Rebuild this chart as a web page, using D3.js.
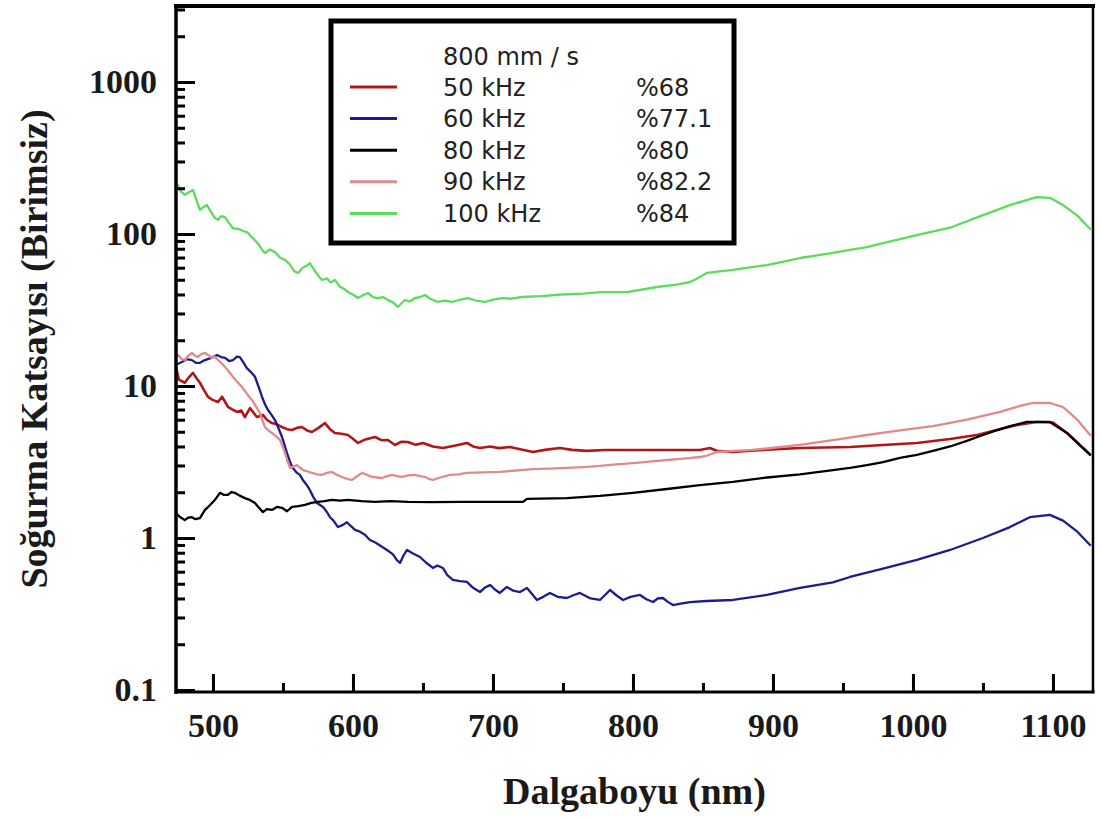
<!DOCTYPE html>
<html>
<head>
<meta charset="utf-8">
<script src="https://cdn.jsdelivr.net/npm/d3@7"></script>
<style>
  html, body { margin: 0; padding: 0; background: #fff; }
  svg { display: block; }
</style>
</head>
<body>
<svg id="chart" width="1100" height="818"></svg>
<script>
// Absorption coefficient spectra, 800 mm/s scan speed, five pulse frequencies
const xTicks = [500, 600, 700, 800, 900, 1000, 1100];
const xMinorTicks = [550, 650, 750, 850, 950, 1050];
const yTicks = [0.1, 1, 10, 100, 1000];
const yTickLabels = ["0.1", "1", "10", "100", "1000"];
const xTitle = "Dalgaboyu (nm)";
const yTitle = "Soğurma Katsayısı (Birimsiz)";
const legendTitle = "800 mm / s";
const seriesNames = ["50 kHz", "60 kHz", "80 kHz", "90 kHz", "100 kHz"];
const seriesPercent = ["%68", "%77.1", "%80", "%82.2", "%84"];
const seriesColors = ["#b01818", "#1c1c8e", "#000000", "#e08a8c", "#5cdc5c"];

// [wavelength nm, absorption coefficient]
const khz50 = [
  [473.6,13.3],[475.7,11.0],[479.9,10.5],[482.8,11.4],[485.7,12.2],[488.4,11.2],[490.7,10.5],[493.6,9.4],
  [496.4,8.5],[499.7,8.1],[503.6,7.85],[506.5,8.5],[510.7,7.3],[514.0,7.0],[517.1,6.75],[520.2,6.9],[522.8,6.25],
  [526.4,7.15],[531.4,6.25],[535.7,6.45],[538.5,6.0],[542.1,5.7],[545.7,5.6],[549.3,5.37],[552.9,5.2],[556.5,5.13],
  [560.0,5.3],[563.5,5.37],[567.2,5.1],[570.7,4.98],[575.4,5.3],[580.0,5.7],[583.6,5.2],[587.1,4.91],[591.7,4.85],
  [596.4,4.76],[599.9,4.5],[603.6,4.22],[608.9,4.45],[615.7,4.62],[620.4,4.4],[625.0,4.41],[630.0,4.09],[634.7,4.3],
  [639.3,4.28],[644.9,4.1],[650.0,4.22],[657.1,4.0],[664.2,3.91],[672.5,4.05],[681.4,4.22],[685.8,4.0],[690.7,3.91],
  [698.1,4.0],[704.2,3.9],[712.1,3.97],[718.6,3.85],[728.6,3.68],[737.0,3.8],[747.9,3.91],[756.4,3.8],[767.1,3.74],
  [779.9,3.79],[800.0,3.79],[820.8,3.79],[847.8,3.79],[855.0,3.91],[859.7,3.75],[871.4,3.68],[892.4,3.8],[919.3,3.91],
  [955.0,3.97],[978.6,4.09],[1002.8,4.22],[1026.5,4.48],[1045.7,4.76],[1060.0,5.13],[1074.3,5.54],[1088.5,5.8],
  [1100.0,5.75],[1110.0,4.91],[1127,3.5]
];
const khz60 = [
  [473.6,13.8],[477.8,14.4],[481.3,15.0],[485.0,14.8],[487.9,14.2],[490.7,14.2],[494.3,14.8],[498.7,15.3],
  [502.9,16.0],[505.8,15.5],[508.6,15.3],[511.5,14.6],[514.3,14.8],[517.1,15.6],[519.2,15.5],[521.7,14.3],
  [524.2,13.1],[527.3,12.3],[530.0,11.5],[532.4,10.0],[535.0,8.5],[537.1,7.6],[539.3,6.95],[541.6,6.5],[544.3,5.97],
  [546.7,5.3],[549.3,4.62],[551.1,4.1],[552.9,3.62],[554.9,3.2],[556.5,2.93],[560.0,2.68],[562.1,2.6],[564.2,2.41],
  [566.7,2.25],[569.2,2.07],[571.8,1.85],[574.3,1.7],[578.6,1.6],[581.0,1.5],[583.6,1.37],[586.1,1.3],[589.3,1.18],
  [592.8,1.22],[595.7,1.27],[598.4,1.2],[601.5,1.13],[605.0,1.1],[608.6,1.05],[612.1,0.97],[616.3,0.93],[620.4,0.88],
  [624.3,0.834],[628.6,0.78],[631.1,0.72],[633.6,0.685],[636.2,0.77],[638.6,0.834],[642.9,0.79],[647.9,0.75],
  [652.1,0.69],[657.1,0.635],[660.3,0.66],[664.2,0.635],[667.4,0.57],[671.4,0.53],[676.4,0.52],[681.4,0.514],
  [685.8,0.47],[690.7,0.441],[694.0,0.47],[697.9,0.491],[701.2,0.46],[704.9,0.435],[709.9,0.476],[714.5,0.45],
  [719.3,0.441],[724.3,0.469],[727.8,0.43],[731.4,0.391],[735.9,0.41],[740.7,0.435],[746.2,0.41],[752.8,0.403],
  [757.4,0.42],[762.1,0.435],[769.7,0.4],[776.4,0.391],[779.9,0.42],[783.6,0.455],[788.1,0.42],[792.9,0.391],
  [798.3,0.41],[805.0,0.422],[809.6,0.395],[814.3,0.379],[817.7,0.4],[821.4,0.403],[824.9,0.38],[828.6,0.362],
  [834.1,0.37],[840.8,0.379],[852.5,0.385],[871.4,0.391],[895.7,0.422],[919.3,0.469],[942.8,0.51],[955.0,0.554],
  [979.3,0.63],[1002.8,0.717],[1026.5,0.834],[1050.0,1.0],[1069.3,1.18],[1083.5,1.37],[1097.8,1.42],[1107.2,1.3],
  [1117.4,1.1],[1127,0.89]
];
const khz80 = [
  [473.6,1.46],[476.2,1.38],[479.9,1.31],[482.3,1.36],[485.0,1.37],[487.4,1.33],[490.7,1.35],[494.3,1.53],[496.6,1.6],
  [499.3,1.70],[501.8,1.8],[505.0,1.98],[507.9,1.92],[510.7,1.92],[513.0,2.0],[515.8,1.98],[519.1,1.9],[522.8,1.83],
  [526.3,1.78],[530.0,1.70],[532.4,1.6],[535.7,1.48],[538.5,1.55],[542.1,1.53],[545.7,1.6],[549.3,1.58],[552.9,1.5],
  [556.5,1.6],[561.1,1.62],[565.7,1.65],[570.3,1.7],[575.0,1.73],[579.5,1.75],[585.0,1.78],[590.7,1.76],[596.4,1.78],
  [606.1,1.75],[615.7,1.73],[626.5,1.75],[639.3,1.73],[657.2,1.72],[677.6,1.73],[698.1,1.73],[721.4,1.73],[724.3,1.81],
  [752.8,1.83],[776.4,1.89],[800.0,1.98],[824.3,2.1],[847.8,2.23],[871.4,2.34],[895.7,2.5],[919.3,2.62],
  [942.8,2.8],[955.0,2.89],[967.2,3.02],[978.6,3.16],[990.7,3.36],[1002.8,3.52],[1014.3,3.74],[1026.5,4.0],
  [1038.5,4.35],[1050.0,4.76],[1060.0,5.13],[1069.3,5.45],[1081.4,5.8],[1097.8,5.8],[1110.0,4.91],[1127,3.5]
];
const khz90 = [
  [473.6,15.5],[475.2,16.0],[477.7,15.0],[479.9,14.83],[482.3,15.8],[485.0,16.49],[486.9,15.9],[489.3,15.51],
  [491.5,16.2],[494.3,16.49],[496.6,16.0],[499.3,15.28],[501.2,15.6],[503.6,14.83],[505.8,14.2],[508.6,13.34],
  [511.5,12.4],[514.3,11.46],[517.6,10.6],[520.7,9.85],[524.2,8.9],[527.8,8.09],[530.9,7.3],[533.6,6.64],
  [535.5,5.9],[537.1,5.37],[539.6,5.1],[542.1,4.91],[544.7,4.7],[547.9,4.41],[549.8,4.0],[551.5,3.62],[553.2,3.2],
  [555.0,2.89],[557.5,2.95],[560.0,3.02],[562.1,2.9],[564.2,2.8],[567.2,2.75],[570.7,2.68],[574.4,2.62],[577.8,2.6],
  [581.5,2.68],[585.0,2.72],[588.7,2.6],[592.2,2.52],[595.8,2.45],[599.3,2.41],[603.0,2.55],[606.5,2.68],[610.2,2.6],
  [613.6,2.52],[617.3,2.5],[620.7,2.48],[624.5,2.55],[627.8,2.6],[631.6,2.55],[635.0,2.52],[639.8,2.58],[644.3,2.6],
  [648.0,2.55],[651.5,2.52],[654.1,2.45],[657.1,2.41],[662.3,2.5],[669.3,2.6],[675.6,2.62],[681.4,2.68],[693.0,2.7],
  [704.9,2.72],[716.5,2.78],[728.6,2.84],[740.0,2.86],[752.8,2.89],[764.6,2.93],[776.4,2.98],[788.1,3.05],[800.0,3.11],
  [811.6,3.18],[824.3,3.26],[836.2,3.33],[847.8,3.41],[853.5,3.5],[860.0,3.68],[871.4,3.74],[883.6,3.79],[895.7,3.88],
  [919.3,4.1],[942.8,4.4],[967.2,4.76],[990.7,5.1],[1014.3,5.45],[1038.6,6.0],[1062.2,6.75],[1076.5,7.4],[1085.7,7.73],
  [1098.0,7.73],[1107.2,7.27],[1117.4,6.0],[1127,4.7]
];
const khz100 = [
  [473.6,215],[474.9,210],[477.2,190],[479.9,181],[482.8,188],[485.7,195],[487.9,170],[490.7,144],[493.0,150],
  [495.7,155],[498.6,140],[501.2,128],[503.6,124],[505.8,131],[508.6,129],[511.5,118],[514.3,109],[518.1,108],
  [521.2,105],[524.9,102],[527.3,96],[530.0,91],[532.4,86],[534.5,80],[537.1,75],[540.6,79],[544.3,76],[547.8,70],
  [551.5,67.5],[555.0,63],[558.0,57],[560.8,55.4],[564.1,60],[567.2,62],[569.2,64.4],[572.3,58],[575.4,53],[577.8,49.8],
  [581.5,51],[584.1,48],[587.1,49.8],[590.7,45],[593.8,43.5],[596.4,41.5],[599.9,40],[603.6,37.9],[607.1,39.5],
  [610.7,40.9],[614.2,38.5],[617.8,37.9],[621.4,38.5],[625.0,36.8],[628.6,35.5],[632.1,33.1],[634.7,35],[637.1,36.8],
  [640.8,36],[644.3,37.9],[648.0,38.5],[651.5,39.7],[655.1,37.5],[660.7,35.7],[665.4,36.5],[670.7,35.7],[675.6,36.8],
  [682.1,37.9],[687.9,36.5],[694.3,35.7],[700.1,37],[706.4,37.9],[713.4,37.5],[720.7,38.5],[733.9,39],[749.2,40],
  [764.6,40.5],[776.4,41.5],[795.8,41.5],[817.1,44.8],[831.0,46.5],[840.8,48.3],[847.4,52],[852.8,55.4],[871.4,58],
  [895.7,62.5],[919.3,69.5],[942.8,75],[954.9,78.5],[967.2,82],[978.6,87.2],[1002.8,98.4],[1026.5,110],
  [1050.0,133],[1069.3,155],[1088.5,175],[1097.8,173],[1107.2,155],[1117.4,132],[1127,107]
];
const seriesData = [khz50, khz60, khz80, khz90, khz100];

const svg = d3.select("#chart");
const plot = { left: 176, right: 1093, top: 6, bottom: 692 };

const x = d3.scaleLinear().domain([473.6, 1128.6]).range([plot.left, plot.right]);
const y = d3.scaleLog().domain([0.097, 3162]).range([plot.bottom, plot.top]);

const serif = "'Liberation Serif', 'Times New Roman', serif";
const sans = "'DejaVu Sans', Verdana, sans-serif";

svg.append("defs").append("clipPath").attr("id", "plotClip")
  .append("rect")
  .attr("x", plot.left).attr("y", plot.top)
  .attr("width", plot.right - plot.left).attr("height", plot.bottom - plot.top);

// Data lines
const line = d3.line().x(d => x(d[0])).y(d => y(d[1]));
const lines = svg.append("g").attr("clip-path", "url(#plotClip)");
seriesData.forEach((data, i) => {
  lines.append("path")
    .datum(data)
    .attr("fill", "none")
    .attr("stroke", seriesColors[i])
    .attr("stroke-width", i === 0 ? 2.6 : 2.3)
    .attr("stroke-linejoin", "round")
    .attr("d", line);
});

// Minor y ticks: 2..9 within each decade
const yMinor = [];
[0.1, 1, 10, 100, 1000].forEach(d => {
  for (let k = 2; k <= 9; k++) {
    const v = d * k;
    if (v < 3162) yMinor.push(v);
  }
});

const yAxisMinor = d3.axisLeft(y).tickValues(yMinor).tickSize(-9).tickFormat("");
const yAxis = d3.axisLeft(y).tickValues(yTicks).tickSize(-19).tickPadding(19)
  .tickFormat((d, i) => yTickLabels[i]);
const xAxisMinor = d3.axisBottom(x).tickValues(xMinorTicks).tickSize(-9).tickFormat("");
const xAxis = d3.axisBottom(x).tickValues(xTicks).tickSize(-18).tickPadding(21)
  .tickFormat(d3.format("d"));

function styleAxis(g) {
  g.select(".domain").remove();
  g.selectAll(".tick line").attr("stroke", "#000").attr("stroke-width", 3);
  g.selectAll(".tick text")
    .attr("fill", "#1a1a1a")
    .style("font-family", serif)
    .style("font-weight", "bold")
    .style("font-size", "34px");
}

svg.append("g").attr("transform", `translate(${plot.left},0)`).call(yAxisMinor).call(styleAxis);
svg.append("g").attr("transform", `translate(${plot.left},0)`).call(yAxis).call(styleAxis);
svg.append("g").attr("transform", `translate(0,${plot.bottom})`).call(xAxisMinor).call(styleAxis);
svg.append("g").attr("transform", `translate(0,${plot.bottom})`).call(xAxis).call(styleAxis);

// Frame
const frame = svg.append("g").attr("stroke", "#000").attr("stroke-linecap", "square");
frame.append("line").attr("x1", plot.left).attr("x2", plot.left).attr("y1", plot.top).attr("y2", plot.bottom).attr("stroke-width", 3.5);
frame.append("line").attr("x1", plot.left).attr("x2", plot.right).attr("y1", plot.bottom).attr("y2", plot.bottom).attr("stroke-width", 3);
frame.append("line").attr("x1", plot.left).attr("x2", plot.right).attr("y1", plot.top).attr("y2", plot.top).attr("stroke-width", 4);
frame.append("line").attr("x1", plot.right).attr("x2", plot.right).attr("y1", plot.top).attr("y2", plot.bottom).attr("stroke-width", 2.5);

// Axis titles
svg.append("text")
  .attr("x", (plot.left + plot.right) / 2).attr("y", 804)
  .attr("text-anchor", "middle")
  .attr("fill", "#1a1a1a")
  .style("font-family", serif).style("font-weight", "bold").style("font-size", "38px")
  .text(xTitle);

svg.append("text")
  .attr("transform", `translate(47,${(plot.top + plot.bottom) / 2}) rotate(-90)`)
  .attr("text-anchor", "middle")
  .attr("fill", "#1a1a1a")
  .style("font-family", serif).style("font-weight", "bold").style("font-size", "38px")
  .text(yTitle);

// Legend
const legend = svg.append("g");
legend.append("rect")
  .attr("x", 331).attr("y", 21).attr("width", 403).attr("height", 222)
  .attr("fill", "#fff").attr("stroke", "#000").attr("stroke-width", 5);
legend.append("text")
  .attr("x", 443).attr("y", 65)
  .attr("fill", "#222")
  .style("font-family", sans).style("font-size", "24px")
  .text(legendTitle);
seriesNames.forEach((name, i) => {
  const cy = 87 + i * 31.6;
  legend.append("line")
    .attr("x1", 350).attr("x2", 397).attr("y1", cy).attr("y2", cy)
    .attr("stroke", seriesColors[i]).attr("stroke-width", 3);
  legend.append("text")
    .attr("x", 443).attr("y", cy + 8.5)
    .attr("fill", "#222")
    .style("font-family", sans).style("font-size", "24px")
    .text(name);
  legend.append("text")
    .attr("x", 636).attr("y", cy + 8.5)
    .attr("fill", "#222")
    .style("font-family", sans).style("font-size", "24px")
    .text(seriesPercent[i]);
});
</script>
</body>
</html>
